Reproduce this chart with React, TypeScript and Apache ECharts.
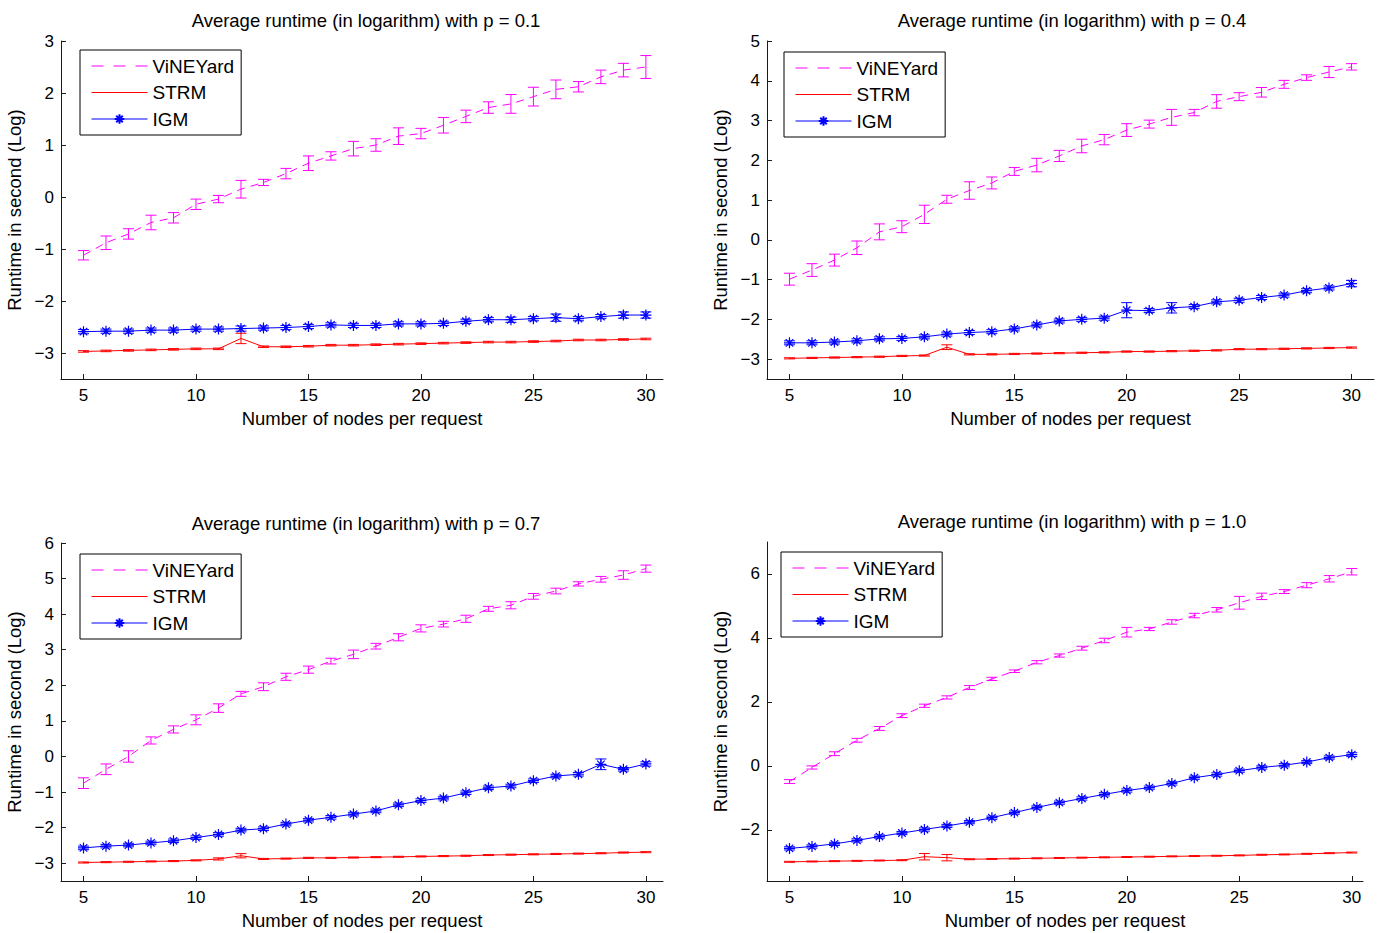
import React, { useEffect, useRef } from "react";
import * as echarts from "echarts";

const xs = [5, 6, 7, 8, 9, 10, 11, 12, 13, 14, 15, 16, 17, 18, 19, 20, 21, 22, 23, 24, 25, 26, 27, 28, 29, 30];
const xTicks = [5, 10, 15, 20, 25, 30];
const seriesNames = ["ViNEYard", "STRM", "IGM"];
const titles = [
  "Average runtime (in logarithm) with p = 0.1",
  "Average runtime (in logarithm) with p = 0.4",
  "Average runtime (in logarithm) with p = 0.7",
  "Average runtime (in logarithm) with p = 1.0",
];
const xLabel = "Number of nodes per request";
const yLabel = "Runtime in second (Log)";

// p = 0.1
const vin01 = [-1.12, -0.88, -0.71, -0.49, -0.4, -0.14, -0.04, 0.15, 0.28, 0.45, 0.65, 0.79, 0.93, 1.0, 1.17, 1.22, 1.38, 1.55, 1.72, 1.79, 1.93, 2.07, 2.12, 2.31, 2.44, 2.5];
const vinErr01 = [0.09, 0.13, 0.1, 0.14, 0.1, 0.1, 0.07, 0.17, 0.06, 0.1, 0.14, 0.08, 0.14, 0.12, 0.16, 0.1, 0.15, 0.12, 0.11, 0.18, 0.18, 0.18, 0.1, 0.13, 0.13, 0.22];
const strm01 = [-2.97, -2.96, -2.95, -2.94, -2.93, -2.92, -2.92, -2.72, -2.88, -2.88, -2.87, -2.85, -2.85, -2.84, -2.83, -2.82, -2.81, -2.8, -2.79, -2.79, -2.78, -2.77, -2.75, -2.75, -2.74, -2.73];
const strmErr01 = [0.015, 0.015, 0.015, 0.015, 0.015, 0.015, 0.015, 0.1, 0.015, 0.015, 0.015, 0.015, 0.015, 0.015, 0.015, 0.015, 0.015, 0.015, 0.015, 0.015, 0.015, 0.015, 0.015, 0.015, 0.015, 0.015];
const igm01 = [-2.59, -2.58, -2.58, -2.56, -2.56, -2.54, -2.54, -2.53, -2.52, -2.51, -2.49, -2.46, -2.47, -2.47, -2.44, -2.44, -2.43, -2.39, -2.36, -2.36, -2.34, -2.32, -2.34, -2.3, -2.27, -2.27];
const igmErr01 = [0.04, 0.04, 0.04, 0.04, 0.04, 0.04, 0.04, 0.05, 0.04, 0.04, 0.04, 0.04, 0.04, 0.04, 0.04, 0.04, 0.04, 0.04, 0.04, 0.05, 0.04, 0.07, 0.04, 0.04, 0.06, 0.06];

// p = 0.4
const vin04 = [-0.99, -0.76, -0.51, -0.2, 0.2, 0.33, 0.64, 1.02, 1.24, 1.43, 1.72, 1.88, 2.11, 2.36, 2.52, 2.76, 2.91, 3.08, 3.2, 3.48, 3.6, 3.71, 3.91, 4.08, 4.22, 4.35];
const vinErr04 = [0.15, 0.16, 0.15, 0.17, 0.2, 0.15, 0.23, 0.1, 0.22, 0.15, 0.1, 0.17, 0.14, 0.17, 0.13, 0.16, 0.1, 0.2, 0.08, 0.17, 0.1, 0.12, 0.1, 0.07, 0.14, 0.08];
const strm04 = [-2.98, -2.97, -2.96, -2.95, -2.94, -2.92, -2.91, -2.7, -2.88, -2.88, -2.87, -2.86, -2.85, -2.84, -2.83, -2.81, -2.81, -2.8, -2.79, -2.78, -2.75, -2.75, -2.74, -2.73, -2.72, -2.71];
const strmErr04 = [0.015, 0.015, 0.015, 0.015, 0.015, 0.015, 0.015, 0.06, 0.015, 0.015, 0.015, 0.015, 0.015, 0.015, 0.015, 0.015, 0.015, 0.015, 0.015, 0.015, 0.015, 0.015, 0.015, 0.015, 0.015, 0.015];
const igm04 = [-2.59, -2.59, -2.57, -2.54, -2.49, -2.48, -2.44, -2.37, -2.33, -2.31, -2.24, -2.14, -2.04, -2.0, -1.97, -1.77, -1.78, -1.71, -1.68, -1.56, -1.52, -1.45, -1.39, -1.28, -1.21, -1.1];
const igmErr04 = [0.05, 0.05, 0.05, 0.05, 0.05, 0.05, 0.05, 0.05, 0.05, 0.05, 0.05, 0.05, 0.05, 0.05, 0.05, 0.19, 0.05, 0.13, 0.05, 0.05, 0.05, 0.05, 0.05, 0.05, 0.05, 0.08];

// p = 0.7
const vin07 = [-0.75, -0.36, 0.0, 0.45, 0.76, 1.03, 1.36, 1.76, 1.96, 2.24, 2.44, 2.68, 2.87, 3.1, 3.35, 3.6, 3.72, 3.87, 4.15, 4.25, 4.5, 4.65, 4.85, 4.98, 5.1, 5.28];
const vinErr07 = [0.15, 0.15, 0.16, 0.1, 0.1, 0.14, 0.12, 0.07, 0.11, 0.1, 0.1, 0.08, 0.12, 0.08, 0.1, 0.1, 0.08, 0.1, 0.07, 0.1, 0.08, 0.08, 0.06, 0.08, 0.12, 0.1];
const strm07 = [-2.98, -2.97, -2.96, -2.95, -2.94, -2.92, -2.88, -2.79, -2.88, -2.87, -2.85, -2.85, -2.84, -2.83, -2.82, -2.81, -2.8, -2.79, -2.77, -2.76, -2.75, -2.74, -2.73, -2.72, -2.7, -2.69];
const strmErr07 = [0.015, 0.015, 0.015, 0.015, 0.015, 0.015, 0.03, 0.06, 0.015, 0.015, 0.015, 0.015, 0.015, 0.015, 0.015, 0.015, 0.015, 0.015, 0.015, 0.015, 0.015, 0.015, 0.015, 0.015, 0.015, 0.015];
const igm07 = [-2.57, -2.52, -2.49, -2.43, -2.37, -2.28, -2.19, -2.07, -2.03, -1.9, -1.79, -1.71, -1.62, -1.53, -1.36, -1.24, -1.17, -1.02, -0.88, -0.83, -0.68, -0.55, -0.5, -0.22, -0.36, -0.21];
const igmErr07 = [0.05, 0.05, 0.05, 0.05, 0.05, 0.05, 0.05, 0.05, 0.05, 0.05, 0.05, 0.05, 0.05, 0.05, 0.05, 0.05, 0.05, 0.05, 0.05, 0.05, 0.05, 0.05, 0.05, 0.15, 0.05, 0.06];

// p = 1.0
const vin10 = [-0.49, -0.05, 0.38, 0.8, 1.17, 1.57, 1.88, 2.14, 2.45, 2.72, 2.96, 3.24, 3.45, 3.68, 3.92, 4.18, 4.28, 4.5, 4.7, 4.88, 5.1, 5.3, 5.45, 5.65, 5.85, 6.07];
const vinErr10 = [0.06, 0.05, 0.06, 0.06, 0.06, 0.06, 0.05, 0.05, 0.06, 0.05, 0.04, 0.05, 0.05, 0.06, 0.07, 0.15, 0.05, 0.07, 0.07, 0.07, 0.2, 0.1, 0.06, 0.08, 0.1, 0.1];
const strm10 = [-3.0, -2.99, -2.98, -2.97, -2.96, -2.95, -2.84, -2.87, -2.92, -2.91, -2.9, -2.89, -2.88, -2.87, -2.86, -2.85, -2.84, -2.83, -2.82, -2.81, -2.8, -2.78, -2.77, -2.75, -2.73, -2.71];
const strmErr10 = [0.015, 0.015, 0.015, 0.015, 0.015, 0.015, 0.1, 0.1, 0.015, 0.015, 0.015, 0.015, 0.015, 0.015, 0.015, 0.015, 0.015, 0.015, 0.015, 0.015, 0.015, 0.015, 0.015, 0.015, 0.015, 0.015];
const igm10 = [-2.58, -2.52, -2.44, -2.33, -2.21, -2.1, -1.99, -1.88, -1.76, -1.62, -1.46, -1.3, -1.15, -1.02, -0.89, -0.77, -0.68, -0.55, -0.37, -0.27, -0.15, -0.05, 0.02, 0.12, 0.26, 0.35];
const igmErr10 = [0.05, 0.05, 0.05, 0.05, 0.05, 0.05, 0.05, 0.05, 0.05, 0.05, 0.05, 0.05, 0.05, 0.05, 0.05, 0.05, 0.05, 0.05, 0.05, 0.05, 0.05, 0.05, 0.05, 0.05, 0.05, 0.06];

const yTicks01 = [-3, -2, -1, 0, 1, 2, 3];
const yTicks04 = [-3, -2, -1, 0, 1, 2, 3, 4, 5];
const yTicks07 = [-3, -2, -1, 0, 1, 2, 3, 4, 5, 6];
const yTicks10 = [-2, 0, 2, 4, 6];

const panels = [
  { left: 61, top: 41, width: 602, height: 338, xmax: 30.76, ymin: -3.5, ymax: 3, yTicks: yTicks01, vin: vin01, vinErr: vinErr01, strm: strm01, strmErr: strmErr01, igm: igm01, igmErr: igmErr01, title: [366, 20], legend: [80, 50] },
  { left: 767, top: 41, width: 607, height: 338, xmax: 31, ymin: -3.5, ymax: 5, yTicks: yTicks04, vin: vin04, vinErr: vinErr04, strm: strm04, strmErr: strmErr04, igm: igm04, igmErr: igmErr04, title: [1072, 20], legend: [784, 52] },
  { left: 61, top: 543, width: 602, height: 338, xmax: 30.76, ymin: -3.5, ymax: 6, yTicks: yTicks07, vin: vin07, vinErr: vinErr07, strm: strm07, strmErr: strmErr07, igm: igm07, igmErr: igmErr07, title: [366, 523], legend: [80, 554] },
  { left: 767, top: 542, width: 596, height: 339, xmax: 30.5, ymin: -3.6, ymax: 7, yTicks: yTicks10, vin: vin10, vinErr: vinErr10, strm: strm10, strmErr: strmErr10, igm: igm10, igmErr: igmErr10, title: [1072, 521], legend: [781, 552] },
];

const FONT = "'Liberation Sans', Arial, Helvetica, sans-serif";
const MAGENTA = "#ff00ff";
const RED = "#ff0000";
const BLUE = "#0000ff";
const ASTERISK = "path://M5 0L5 10M0 5L10 5M1.6 1.6L8.4 8.4M8.4 1.6L1.6 8.4";

function errSeries(i: number, vals: number[], errs: number[], color: string, name: string) {
  return {
    type: "custom",
    name,
    xAxisIndex: i,
    yAxisIndex: i,
    coordinateSystem: "cartesian2d",
    silent: true,
    z: 3,
    data: xs.map((x, k) => [x, vals[k], errs[k]]),
    encode: { x: 0, y: 1 },
    renderItem: (params: any, api: any) => {
      const x = api.value(0);
      const y = api.value(1);
      const e = api.value(2);
      const t = api.coord([x, y + e]);
      const b = api.coord([x, y - e]);
      const w = 5.5;
      const st = { stroke: color, lineWidth: 1 };
      return {
        type: "group",
        children: [
          { type: "line", shape: { x1: t[0], y1: t[1], x2: b[0], y2: b[1] }, style: st },
          { type: "line", shape: { x1: t[0] - w, y1: t[1], x2: t[0] + w, y2: t[1] }, style: st },
          { type: "line", shape: { x1: b[0] - w, y1: b[1], x2: b[0] + w, y2: b[1] }, style: st },
        ],
      };
    },
  };
}

const minus = (v: number) => String(v).replace("-", "\u2212");

export default function App() {
  const ref = useRef<HTMLDivElement>(null);
  useEffect(() => {
    if (!ref.current) return;
    const chart = echarts.init(ref.current, undefined, { renderer: "svg" });
    const series: any[] = [];
    panels.forEach((p, i) => {
      series.push({
        type: "line",
        name: seriesNames[0],
        xAxisIndex: i,
        yAxisIndex: i,
        data: xs.map((x, k) => [x, p.vin[k]]),
        symbol: "none",
        color: MAGENTA,
        lineStyle: { color: MAGENTA, width: 1, type: [8, 6] },
        z: 2,
      });
      series.push(errSeries(i, p.vin, p.vinErr, MAGENTA, "eV" + i));
      series.push({
        type: "line",
        name: seriesNames[1],
        xAxisIndex: i,
        yAxisIndex: i,
        data: xs.map((x, k) => [x, p.strm[k]]),
        symbol: "none",
        color: RED,
        lineStyle: { color: RED, width: 1 },
        z: 2,
      });
      series.push(errSeries(i, p.strm, p.strmErr, RED, "eS" + i));
      series.push({
        type: "line",
        name: seriesNames[2],
        xAxisIndex: i,
        yAxisIndex: i,
        data: xs.map((x, k) => [x, p.igm[k]]),
        symbol: ASTERISK,
        symbolSize: 11,
        showSymbol: true,
        color: BLUE,
        itemStyle: { color: BLUE, borderColor: BLUE, borderWidth: 1.2 },
        lineStyle: { color: BLUE, width: 1 },
        z: 2,
      });
      series.push(errSeries(i, p.igm, p.igmErr, BLUE, "eI" + i));
    });

    const option: any = {
      animation: false,
      backgroundColor: "#ffffff",
      textStyle: { fontFamily: FONT },
      grid: panels.map((p) => ({ left: p.left, top: p.top, width: p.width, height: p.height })),
      xAxis: panels.map((p, i) => ({
        gridIndex: i,
        type: "value",
        min: 4,
        max: p.xmax,
        name: xLabel,
        nameLocation: "middle",
        nameGap: 30,
        nameTextStyle: { fontSize: 18.5, color: "#000", fontFamily: FONT },
        axisLine: { show: true, onZero: false, lineStyle: { color: "#1a1a1a", width: 1 } },
        axisTick: { show: true, inside: true, length: 5, customValues: xTicks, lineStyle: { color: "#1a1a1a" } },
        axisLabel: { customValues: xTicks, fontSize: 17, color: "#000", margin: 8, fontFamily: FONT },
        splitLine: { show: false },
      })),
      yAxis: panels.map((p, i) => ({
        gridIndex: i,
        type: "value",
        min: p.ymin,
        max: p.ymax,
        name: yLabel,
        nameLocation: "middle",
        nameGap: 37,
        nameTextStyle: { fontSize: 18.5, color: "#000", fontFamily: FONT },
        axisLine: { show: true, onZero: false, lineStyle: { color: "#1a1a1a", width: 1 } },
        axisTick: { show: true, inside: true, length: 5, customValues: p.yTicks, lineStyle: { color: "#1a1a1a" } },
        axisLabel: { customValues: p.yTicks, fontSize: 17, color: "#000", margin: 7, fontFamily: FONT, formatter: (v: number) => minus(v) },
        splitLine: { show: false },
      })),
      legend: panels.map((p) => ({
        show: true,
        left: p.legend[0],
        top: p.legend[1],
        orient: "vertical",
        data: [
          { name: seriesNames[0], itemStyle: { opacity: 0 }, lineStyle: { type: [12, 10], width: 1, color: MAGENTA } },
          { name: seriesNames[1], itemStyle: { opacity: 0 }, lineStyle: { width: 1, color: RED, type: "solid" } },
          { name: seriesNames[2], lineStyle: { width: 1, color: BLUE, type: "solid" } },
        ],
        selectedMode: false,
        padding: [6, 7, 6, 11],
        itemWidth: 56,
        itemHeight: 12,
        itemGap: 6.5,
        borderColor: "#000",
        borderWidth: 1,
        backgroundColor: "#ffffff",
        textStyle: { fontSize: 19, color: "#000", fontFamily: FONT, lineHeight: 20 },
      })),
      graphic: panels.map((p, i) => ({
        type: "text",
        x: p.title[0],
        y: p.title[1],
        style: {
          text: titles[i],
          fill: "#000",
          font: "18.5px " + FONT,
          textAlign: "center",
          textVerticalAlign: "middle",
        },
      })),
      series,
    };
    chart.setOption(option);
    return () => chart.dispose();
  }, []);
  return <div ref={ref} style={{ position: "fixed", left: 0, top: 0, width: 1386, height: 933, background: "#fff" }} />;
}
